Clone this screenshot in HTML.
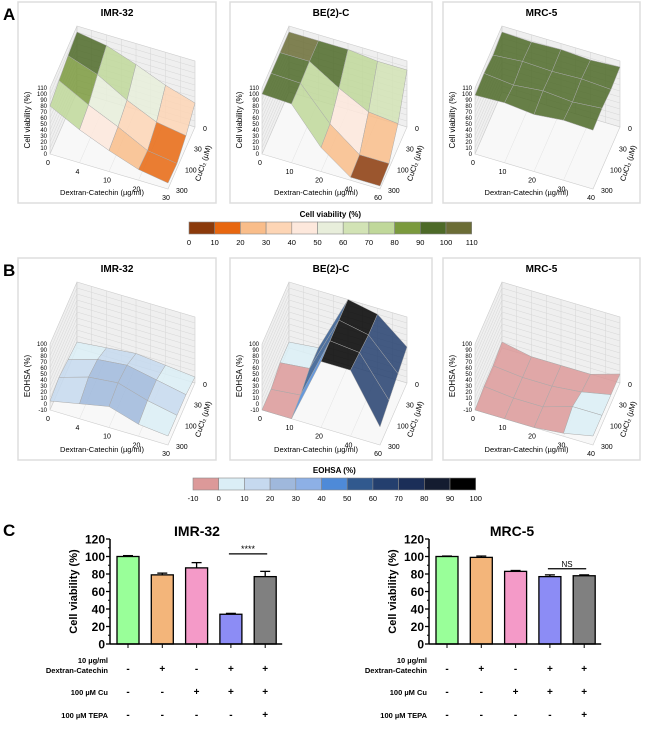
<!DOCTYPE html>
<html><head><meta charset="utf-8"><style>
body{margin:0;background:#fff;font-family:"Liberation Sans",Arial,sans-serif}
svg text{font-family:"Liberation Sans",Arial,sans-serif}
</style></head><body>
<svg id="fig" width="650" height="726" viewBox="0 0 650 726" xmlns="http://www.w3.org/2000/svg">
<defs id="defs"></defs>
<text x="3" y="20" font-size="17" font-weight="bold">A</text>
<text x="3" y="276" font-size="17" font-weight="bold">B</text>
<text x="3" y="536" font-size="17" font-weight="bold">C</text>
<g id="g3d"></g><g id="gcb"></g><g id="gbar"></g>
</svg>
<script>
const NS='http://www.w3.org/2000/svg';
function mk(p,tag,at,txt){const e=document.createElementNS(NS,tag);for(const k in at)e.setAttribute(k,at[k]);if(txt!==undefined)e.textContent=txt;p.appendChild(e);return e;}

// ===== data =====
const vibColors=['#8b3a0b','#e8670f','#f9bd8a','#fdd5b5','#fde8dc','#e8eedb','#d2e3b5','#c0d89a','#7b9a3e','#4d6a28','#6b6d36'];
const vibTicks=[0,10,20,30,40,50,60,70,80,90,100,110];
const eohColors=['#dc9999','#dbeef6','#c6d9ef','#9fb8dc','#8db0e6','#4e8ad8','#31598e','#243f6e','#1b2e58','#141c30','#000000'];
const eohTicks=[-10,0,10,20,30,40,50,60,70,80,90,100];
const cuTicks=['300','100','30','0'];
const dexTicksIMR=['0','4','10','20','30'];
const dexTicksBE=['0','10','20','40','60'];
const dexTicksMRC=['0','10','20','30','40'];
// grids: rows = Cu [300,100,30,0] (front to back), cols = dextran
const vibIMR=[[80,55,35,18,10],[88,62,40,15,8],[95,78,50,28,20],[100,92,75,55,40]];
const vibBE=[[100,98,40,5,5],[100,98,45,8,8],[100,100,70,45,40],[100,100,100,95,95]];
const vibMRC=[[98,100,95,100,98],[100,95,100,96,100],[96,100,98,100,97],[100,98,100,97,100]];
const eohIMR=[[5,15,25,10,5],[10,25,30,15,5],[5,20,25,15,5],[0,5,10,5,0]];
const eohBE=[[-10,-10,100,100,20],[-10,-5,100,95,30],[0,5,100,90,40],[0,5,100,90,50]];
const eohMRC=[[-10,-10,-10,-5,5],[-5,-10,-10,5,5],[-5,-10,-10,-5,5],[0,-10,-10,-10,5]];

const g3=document.getElementById('g3d');
const defs=document.getElementById('defs');
function colorFor(v,ticks,cols){for(let k=0;k<cols.length;k++){if(v<ticks[k+1])return cols[k];}return cols[cols.length-1];}
let pid=0;
function panel3d(bx,by,bw,bh,title,grid,dexT,zT,zlab,cols,ticks,zmin,zmax){
  pid++;
  const cp=mk(defs,'clipPath',{id:'cp'+pid});
  mk(cp,'rect',{x:bx,y:by,width:bw,height:bh});
  const g=mk(g3,'g',{});
  
  
  const box=mk(g,'rect',{x:bx,y:by,width:bw,height:bh,fill:'#fff',stroke:'#ddd','stroke-width':1.5});
  
  
  const inner=mk(g,'g',{'clip-path':'url(#cp'+pid+')'});
  const O=[bx+32,by+152],ex=[118,35],ey=[27,-62],zh=66;
  const nI=grid[0].length-1,nJ=grid.length-1;
  function P(i,j,z){const f=(z-zmin)/(zmax-zmin);return [O[0]+i/nI*ex[0]+j/nJ*ey[0],O[1]+i/nI*ex[1]+j/nJ*ey[1]-f*zh];}
  const topZ=zmin+(zmax-zmin)*1.0;
  const lw=[P(0,0,zmin),P(0,nJ,zmin),P(0,nJ,topZ),P(0,0,topZ)];
  const bwl=[P(0,nJ,zmin),P(nI,nJ,zmin),P(nI,nJ,topZ),P(0,nJ,topZ)];
  [lw,bwl].forEach((w,k)=>{const p=mk(inner,'polygon',{points:w.map(q=>q.join(',')).join(' '),fill:'#efefef',stroke:'#ccc','stroke-width':0.6});
    });
  for(let k=1;k<=10;k++){const z=zmin+(topZ-zmin)*k/11;const a=P(0,0,z),m=P(0,nJ,z),b=P(nI,nJ,z);mk(inner,'polyline',{points:`${a} ${m} ${b}`,fill:'none',stroke:'#d6d6d6','stroke-width':0.5});}
  for(let i=1;i<nI*2;i++){const a=P(i/2,nJ,zmin),b=P(i/2,nJ,topZ);mk(inner,'line',{x1:a[0],y1:a[1],x2:b[0],y2:b[1],stroke:'#d6d6d6','stroke-width':0.5});}
  const fl=[P(0,0,zmin),P(nI,0,zmin),P(nI,nJ,zmin),P(0,nJ,zmin)];
  mk(inner,'polygon',{points:fl.map(q=>q.join(',')).join(' '),fill:'#f8f8f8',stroke:'#ccc','stroke-width':0.6});
  for(let i=1;i<nI;i++){const a=P(i,0,zmin),b=P(i,nJ,zmin);mk(inner,'line',{x1:a[0],y1:a[1],x2:b[0],y2:b[1],stroke:'#e2e2e2','stroke-width':0.5});}
  for(let j=nJ-1;j>=0;j--)for(let i=0;i<nI;i++){
    const v=[grid[j][i],grid[j][i+1],grid[j+1][i+1],grid[j+1][i]];
    const pts=[P(i,j,v[0]),P(i+1,j,v[1]),P(i+1,j+1,v[2]),P(i,j+1,v[3])];
    const avg=(v[0]+v[1]+v[2]+v[3])/4;
    const q=mk(inner,'polygon',{points:pts.map(p=>p.join(',')).join(' '),fill:colorFor(avg,ticks,cols),'fill-opacity':0.85,stroke:'#aaa','stroke-width':0.5});
    
    
  }
  dexT.forEach((s,i)=>{const p=P(i,0,zmin);mk(g,'text',{x:p[0]-2,y:p[1]+11,'font-size':7,'text-anchor':'middle'},s);});
  cuTicks.forEach((s,j)=>{const p=P(nI,j,zmin);mk(g,'text',{x:p[0]+8,y:p[1]+4,'font-size':7},s);});
  zT.forEach(z=>{const p=P(0,0,z);mk(g,'text',{x:p[0]-3,y:p[1]+2,'font-size':6,'text-anchor':'end'},z);});
  const xl=mk(g,'text',{x:bx+bw/2-15,y:by+bh-8,'font-size':7.5,'text-anchor':'middle'},'Dextran-Catechin (µg/ml)');
  
  const pc=P(nI,nJ/2,zmin);
  const yl=mk(g,'text',{x:pc[0]+24,y:pc[1]+6,'font-size':7.5,'text-anchor':'middle',transform:`rotate(-72 ${pc[0]+24} ${pc[1]+6})`},'CuCl₂ (µM)');
  
  const zl=mk(g,'text',{x:bx+12,y:by+118,'font-size':8,'text-anchor':'middle',transform:`rotate(-90 ${bx+12} ${by+118})`},zlab);
  
  const t=mk(g,'text',{x:bx+bw/2,y:by+14,'font-size':10,'font-weight':'bold','text-anchor':'middle'},title);
  
  
}
const zV=[0,10,20,30,40,50,60,70,80,90,100,110];
const zE=[-10,0,10,20,30,40,50,60,70,80,90,100];
panel3d(18,2,198,201,'IMR-32',vibIMR,dexTicksIMR,zV,'Cell viability (%)',vibColors,vibTicks,0,110);
panel3d(230,2,202,201,'BE(2)-C',vibBE,dexTicksBE,zV,'Cell viability (%)',vibColors,vibTicks,0,110);
panel3d(443,2,197,201,'MRC-5',vibMRC,dexTicksMRC,zV,'Cell viability (%)',vibColors,vibTicks,0,110);
panel3d(18,258,198,202,'IMR-32',eohIMR,dexTicksIMR,zE,'EOHSA (%)',eohColors,eohTicks,-10,100);
panel3d(230,258,202,202,'BE(2)-C',eohBE,dexTicksBE,zE,'EOHSA (%)',eohColors,eohTicks,-10,100);
panel3d(443,258,197,202,'MRC-5',eohMRC,dexTicksMRC,zE,'EOHSA (%)',eohColors,eohTicks,-10,100);

// ===== colorbars =====
const gcb=document.getElementById('gcb');
function colorbar(x,y,title,cols,ticks,name){
  const g=mk(gcb,'g',{});
  
  
  const w=25.7;
  mk(g,'text',{x:x+cols.length*w/2,y:y-5,'font-size':8,'font-weight':'bold','text-anchor':'middle'},title);
  cols.forEach((c,k)=>{const r=mk(g,'rect',{x:x+k*w,y:y,width:w,height:12,fill:c,stroke:'#888','stroke-width':0.6});
    });
  ticks.forEach((t,k)=>mk(g,'text',{x:x+k*w,y:y+23,'font-size':7.5,'text-anchor':'middle'},t));
}
colorbar(189,222,'Cell viability (%)',vibColors,vibTicks,'colorbar-viability');
colorbar(193,478,'EOHSA (%)',eohColors,eohTicks,'colorbar-eohsa');

// ===== bar charts =====
const barColors=['#99ff99','#f3b57a','#f49ac8','#8c8cf5','#808080'];
const imrVals=[100,79,87,34,77];
const imrErr=[1,2,6,1,6];
const mrcVals=[100,99,83,77,78];
const mrcErr=[0.5,1.5,1,2,1];
const yTicks=[0,20,40,60,80,100,120];
const rowDex=['-','+','-','+','+'];
const rowCu=['-','-','+','+','+'];
const rowTepa=['-','-','-','-','+'];
const gb=document.getElementById('gbar');
function barChart(ax,title,tx,vals,errs,sig,name){
  const g=mk(gb,'g',{});
  
  
  const y0=644,y1=539;
  const ys=v=>y0-(v/120)*(y0-y1);
  const xs=i=>ax+18+i*34.3;
  const tt=mk(g,'text',{x:tx,y:536,'font-size':14,'font-weight':'bold','text-anchor':'middle'},title);
  
  vals.forEach((v,i)=>{
    const b=mk(g,'rect',{x:xs(i)-11,y:ys(v),width:22,height:y0-ys(v),fill:barColors[i],stroke:'#000','stroke-width':1.3});
    
    const e=ys(v+errs[i]);
    mk(g,'line',{x1:xs(i),y1:ys(v),x2:xs(i),y2:e,stroke:'#000','stroke-width':1.3});
    mk(g,'line',{x1:xs(i)-5,y1:e,x2:xs(i)+5,y2:e,stroke:'#000','stroke-width':1.3});
    mk(g,'line',{x1:xs(i),y1:y0,x2:xs(i),y2:y0+4,stroke:'#000','stroke-width':1});
    mk(g,'text',{x:xs(i),y:672,'font-size':10,'font-weight':'bold','text-anchor':'middle'},rowDex[i]);
    mk(g,'text',{x:xs(i),y:695,'font-size':10,'font-weight':'bold','text-anchor':'middle'},rowCu[i]);
    mk(g,'text',{x:xs(i),y:718,'font-size':10,'font-weight':'bold','text-anchor':'middle'},rowTepa[i]);
  });
  mk(g,'line',{x1:ax,y1:y1,x2:ax,y2:y0,stroke:'#000','stroke-width':1.5});
  mk(g,'line',{x1:ax,y1:y0,x2:xs(4)+17,y2:y0,stroke:'#000','stroke-width':1.5});
  yTicks.forEach(t=>{mk(g,'line',{x1:ax-4,y1:ys(t),x2:ax,y2:ys(t),stroke:'#000','stroke-width':1.3});
    mk(g,'text',{x:ax-5,y:ys(t)+4.5,'font-size':12,'font-weight':'bold','text-anchor':'end'},t);});
  for(let t=10;t<120;t+=20)mk(g,'line',{x1:ax-2,y1:ys(t),x2:ax,y2:ys(t),stroke:'#000','stroke-width':1});
  const yl=mk(g,'text',{x:ax-33,y:ys(60),'font-size':11,'font-weight':'bold','text-anchor':'middle',transform:`rotate(-90 ${ax-33} ${ys(60)})`},'Cell viability (%)');
  
  const sy=ys(Math.max(vals[3]+errs[3],vals[4]+errs[4])+(sig=='NS'?7:20));
  mk(g,'line',{x1:xs(3)-2,y1:sy,x2:xs(4)+2,y2:sy,stroke:'#000','stroke-width':1.3});
  mk(g,'text',{x:(xs(3)+xs(4))/2,y:sy-2,'font-size':sig=='NS'?8:9,'text-anchor':'middle'},sig);
  const rx=ax-2;
  mk(g,'text',{x:rx,y:663,'font-size':7.5,'font-weight':'bold','text-anchor':'end'},'10 µg/ml');
  mk(g,'text',{x:rx,y:673,'font-size':7.5,'font-weight':'bold','text-anchor':'end'},'Dextran-Catechin');
  mk(g,'text',{x:rx,y:695,'font-size':7.5,'font-weight':'bold','text-anchor':'end'},'100 µM Cu');
  mk(g,'text',{x:rx,y:718,'font-size':7.5,'font-weight':'bold','text-anchor':'end'},'100 µM TEPA');
}
barChart(110,'IMR-32',197,imrVals,imrErr,'****','bar-chart-imr32');
barChart(429,'MRC-5',512,mrcVals,mrcErr,'NS','bar-chart-mrc5');
</script>
</body></html>
